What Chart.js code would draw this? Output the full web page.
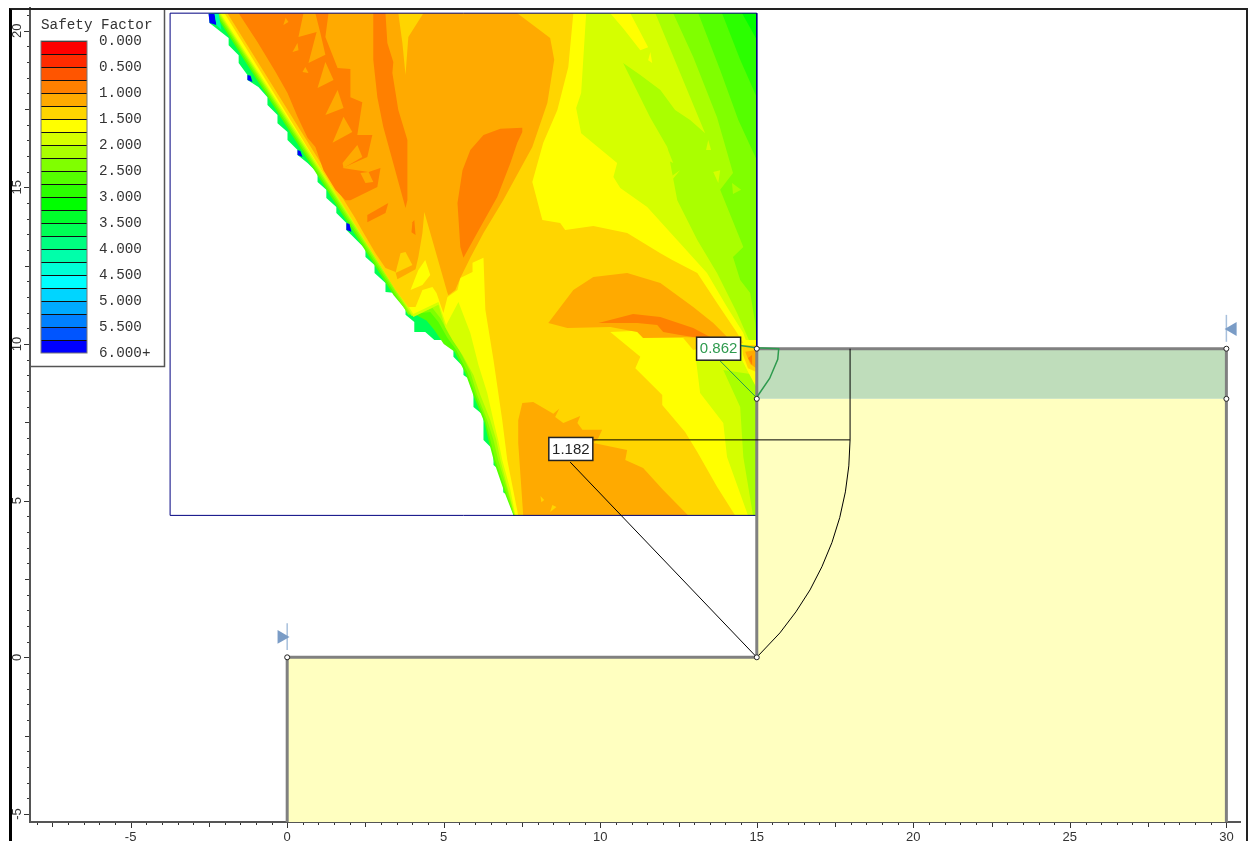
<!DOCTYPE html>
<html>
<head>
<meta charset="utf-8">
<title>Safety Factor</title>
<script src="https://cdn.jsdelivr.net/npm/chart.js@4"></script>
<style>
  html, body { margin: 0; padding: 0; background: #fff; }
  #wrap { position: relative; width: 1248px; height: 841px; overflow: hidden; }
  #frame { position: absolute; left: 9px; top: 8px; width: 1234px; height: 840px;
           border-left: 3px solid #000; border-top: 2px solid #222; border-right: 2px solid #222; pointer-events: none; }
</style>
</head>
<body>
<div id="wrap">
  <canvas id="chart" width="1248" height="841"></canvas>
  <div id="frame"></div>
</div>
<script>
// Legend
const legendTitle = "Safety Factor"
const legendLabels = ["0.000", "0.500", "1.000", "1.500", "2.000", "2.500", "3.000", "3.500", "4.000", "4.500", "5.000", "5.500", "6.000+"]
const legendColors = ["#ff0000", "#ff2b00", "#ff5500", "#ff8000", "#ffaa00", "#ffd500", "#ffff00", "#d5ff00",
  "#aaff00", "#80ff00", "#55ff00", "#2bff00", "#00ff00", "#00ff2b", "#00ff55", "#00ff80",
  "#00ffaa", "#00ffd5", "#00ffff", "#00d5ff", "#00aaff", "#0080ff", "#0055ff", "#0000ff"]

// Contour bands (x, y in metres)
const fieldOutline = [[-2.51,20.56],[-2.48,20.25],[-1.87,19.77],[-1.87,19.54],[-1.55,19.22],[-1.55,18.97],[-1.27,18.59],[-1.27,18.43],[-0.92,18.20],[-0.63,17.88],[-0.63,17.63],[-0.31,17.31],[-0.31,17.05],[0.01,16.77],[0.01,16.51],[0.33,16.19],[0.33,16.03],[0.65,15.78],[0.97,15.46],[0.97,15.17],[1.25,14.92],[1.25,14.66],[1.57,14.37],[1.57,14.18],[1.89,13.86],[1.89,13.64],[2.50,13.03],[2.50,12.78],[2.79,12.52],[2.79,12.27],[3.14,11.95],[3.14,11.66],[3.46,11.63],[3.78,11.25],[3.78,10.93],[4.06,10.70],[4.06,10.38],[4.41,10.38],[4.70,10.13],[4.99,10.13],[5.31,9.87],[5.31,9.59],[5.63,9.27],[5.63,9.01],[5.95,8.79],[5.95,7.99],[6.27,7.73],[6.27,6.94],[6.59,6.62],[6.59,6.14],[6.90,5.88],[6.90,5.27],[7.22,5.02],[7.22,4.53],[15,4.53],[15,20.56]]
const band55 = [[-2.32,20.56],[3.40,11.56],[3.78,11.10],[4.45,10.75],[4.70,10.45],[5.00,10.00],[5.35,9.75],[5.70,9.05],[5.97,8.30],[6.30,7.50],[6.45,6.85],[6.62,6.20],[6.93,5.30],[7.23,4.53],[15,4.53],[15,20.56]]
const band80 = [[-2.26,20.56],[3.47,11.56],[3.87,10.93],[4.57,11.02],[4.83,10.70],[5.12,10.19],[5.40,9.81],[5.75,9.11],[6.01,8.37],[6.33,7.57],[6.49,6.94],[6.65,6.30],[6.97,5.34],[7.24,4.53],[15,4.53],[15,20.56]]
const bandAA = [[-2.21,20.56],[3.53,11.56],[3.97,10.89],[4.64,11.15],[4.89,10.83],[5.18,10.29],[5.50,9.81],[5.85,9.11],[6.07,8.37],[6.39,7.57],[6.59,6.94],[6.74,6.30],[7.03,5.34],[7.26,4.53],[15,4.53],[15,20.56]]
const stripe80 = [[12.33,20.56],[12.97,19.16],[13.73,17.24],[14.24,15.46],[13.83,14.92],[14.57,13.10],[14.24,12.78],[14.47,12.04],[14.79,11.63],[14.95,10.67],[15,9.95],[15,20.56]]
const stripe55 = [[13.13,20.56],[13.83,18.75],[14.41,17.15],[15,15.87],[15,20.56]]
const stripe2B = [[13.89,20.56],[14.47,19.07],[15,17.88],[15,20.56]]
const stripe00 = [[14.53,20.56],[15,19.71],[15,20.56]]
const speckAA = [[14.21,15.14],[14.50,14.92],[14.24,14.79]]
const bandD5 = [[-2.17,20.56],[3.58,11.56],[4.03,10.86],[4.83,11.25],[5.05,10.54],[5.28,10.13],[5.60,9.65],[5.95,9.01],[6.17,8.37],[6.49,7.57],[6.68,6.94],[6.81,6.30],[7.06,5.34],[7.27,4.53],[14.88,4.53],[14.57,6.39],[14.47,7.99],[13.93,9.17],[15,9.01],[15,9.81],[14.79,10.03],[14.37,10.99],[13.73,12.27],[13.10,13.32],[12.46,14.59],[12.14,16.29],[11.60,17.22],[10.73,18.97],[11.28,18.59],[11.92,18.11],[12.39,17.47],[12.87,17.15],[13.35,16.73],[11.76,20.56]]
const speckD5a = [[11.92,15.97],[12.14,16.26],[12.33,15.78]]
const speckD5b = [[12.24,15.33],[12.55,15.55],[12.30,15.24]]
const speckD5c = [[13.61,15.49],[13.83,15.55],[13.77,15.14]]
const speckD5d = [[13.45,16.51],[13.54,16.19],[13.38,16.19]]
const wedgeYellow = [[10.32,20.56],[10.96,20.56],[11.53,19.47],[11.28,19.38],[10.73,20.08]]
const speckYellow = [[11.60,19.32],[11.66,18.97],[11.53,19.06]]
const bandYellow = [[-2.13,20.56],[3.65,11.56],[4.03,10.96],[4.83,11.34],[5.08,10.61],[5.47,11.34],[5.85,10.35],[6.11,9.33],[6.39,8.44],[6.62,7.42],[6.74,6.94],[6.87,6.30],[7.13,5.34],[7.29,4.53],[14.72,4.53],[14.05,6.39],[13.93,7.48],[13.19,8.44],[13.06,9.49],[13.51,9.97],[14.72,9.91],[14.57,10.35],[14.05,11.18],[13.41,12.27],[12.55,13.22],[11.50,14.37],[10.64,14.98],[10.42,15.33],[10.54,15.78],[9.39,16.73],[9.23,17.53],[9.39,18.01],[9.55,20.56]]
const wallYellow = [[14.53,10.13],[14.98,10.13],[14.98,8.63],[14.69,9.17],[14.53,9.49]]
const bandD5Core = [[-2.00,20.56],[3.46,11.72],[3.87,11.18],[4.10,11.18],[4.32,11.72],[4.64,11.82],[4.77,11.63],[4.99,10.99],[5.12,11.50],[5.44,11.72],[5.53,12.11],[5.92,12.30],[5.92,12.59],[6.27,12.75],[6.33,11.09],[6.59,9.49],[6.87,7.57],[7.03,6.30],[7.22,5.34],[7.38,4.53],[14.31,4.53],[13.73,5.44],[13.10,6.55],[12.71,7.19],[11.98,8.05],[11.98,8.37],[11.12,9.23],[11.28,9.59],[10.32,10.38],[11.18,10.42],[11.37,10.19],[12.65,10.19],[12.97,9.81],[13.51,9.97],[14.57,10.03],[14.31,10.45],[13.73,11.31],[13.10,12.27],[12.30,12.68],[11.92,12.90],[10.86,13.54],[9.78,13.77],[8.88,13.64],[8.72,13.86],[8.15,13.96],[7.83,15.17],[8.18,16.42],[8.63,17.47],[8.98,18.84],[9.14,20.56]]
const wallCore = [[14.53,9.97],[14.98,9.97],[14.98,9.11],[14.72,9.23],[14.56,9.65]]
const bandOrange = [[-1.91,20.56],[2.15,14.05],[2.44,13.54],[2.82,12.90],[3.14,12.43],[3.46,12.30],[3.52,12.07],[4.10,12.39],[4.19,12.78],[4.32,13.54],[4.38,14.21],[5.12,11.63],[5.15,11.56],[5.37,11.72],[5.53,12.11],[5.85,12.75],[6.27,13.54],[6.90,14.59],[7.83,16.29],[8.31,17.69],[8.53,19.07],[8.40,19.77],[7.35,20.56]]
const wedgeCore = [[3.55,20.56],[4.35,20.56],[3.87,19.80],[3.78,18.59],[3.68,19.61]]
const blobCore = [[3.46,12.27],[3.62,12.90],[3.78,12.94],[4.00,12.52]]
const spikeYellow = [[4.41,12.68],[4.57,12.20],[4.32,11.88],[3.94,11.72],[4.19,12.36]]
const islandUpper = [[8.34,10.67],[9.14,11.72],[9.78,12.14],[10.86,12.27],[11.92,11.95],[12.97,11.18],[13.61,10.67],[14.15,10.13],[13.29,10.19],[12.65,10.22],[11.37,10.19],[11.18,10.38],[10.32,10.54],[8.95,10.51]]
const islandLower = [[7.51,8.12],[7.86,8.15],[8.50,7.77],[8.69,7.93],[8.56,7.67],[8.82,7.48],[9.36,7.70],[9.27,7.48],[9.43,7.26],[10.06,7.26],[9.94,7.00],[9.78,6.84],[10.86,6.62],[10.80,6.30],[11.37,6.04],[12.01,5.34],[12.81,4.53],[7.54,4.53],[7.38,6.84],[7.38,7.57]]
const speckCoreA = [[8.09,5.15],[8.21,5.02],[8.12,4.95]]
const speckCoreB = [[8.47,4.86],[8.60,4.80],[8.40,4.64]]
const wallOrange = [[14.63,9.75],[14.98,9.81],[14.98,9.23],[14.79,9.36]]
const deepMain = [[-1.55,20.56],[1.32,20.56],[1.22,19.80],[1.61,18.81],[2.02,18.78],[2.02,17.88],[2.40,17.72],[2.24,16.67],[2.72,16.67],[2.56,15.97],[1.77,15.62],[2.60,15.49],[2.98,15.62],[2.88,15.01],[2.02,14.59],[1.86,14.59],[1.54,14.92],[1.16,15.55],[0.90,16.29],[0.65,16.58],[0.33,17.25],[0.01,18.01],[-0.37,18.68],[-0.95,19.64]]
const notch1 = [[0.52,20.56],[0.90,20.56],[1.06,19.93],[1.22,19.23],[0.68,18.97],[0.94,19.96],[0.36,19.80]]
const notch2 = [[1.22,19.00],[1.48,18.43],[0.97,18.17]]
const notch3 = [[1.61,18.11],[1.80,17.53],[1.22,17.31]]
const notch4 = [[1.80,17.25],[2.08,16.77],[1.45,16.42]]
const notch5 = [[2.24,16.35],[2.40,15.97],[1.80,15.62],[1.77,15.78]]
const notch6 = [[-0.05,20.41],[0.04,20.28],[-0.12,20.18]]
const notch7 = [[0.33,19.61],[0.36,19.38],[0.17,19.32]]
const notch8 = [[0.58,18.84],[0.68,18.65],[0.49,18.68]]
const notch9 = [[2.60,15.49],[2.75,15.17],[2.50,15.14],[2.34,15.46]]
const deepIsland1 = [[3.23,14.50],[3.14,14.18],[2.56,13.89],[2.56,14.12]]
const deepIsland2 = [[4.00,13.89],[4.06,13.96],[4.10,13.48],[3.97,13.57]]
const deepStrip = [[2.75,20.56],[3.14,20.56],[3.20,19.61],[3.39,19.00],[3.36,18.65],[3.55,17.47],[3.84,16.51],[3.84,14.59],[3.78,14.34],[3.36,15.87],[3.07,16.93],[2.88,17.88],[2.75,19.07]]
const deepLeaf = [[7.51,16.90],[6.81,16.87],[6.27,16.67],[5.85,16.19],[5.60,15.55],[5.44,14.50],[5.53,13.10],[5.63,12.75],[6.17,13.73],[6.71,14.69],[7.13,15.78],[7.35,16.42],[7.51,16.77]]
const deepBrow = [[9.94,10.67],[11.05,10.96],[11.92,10.86],[12.97,10.51],[13.51,10.22],[12.97,10.22],[12.55,10.29],[12.01,10.38],[11.82,10.61],[11.18,10.67]]
const wallDeep = [[14.72,9.55],[14.85,9.65],[14.85,9.33]]
const tipBlue1 = [[-2.51,20.53],[-2.32,20.53],[-2.26,20.18],[-2.48,20.25]]
const tipCyan1 = [[-2.32,20.56],[-2.19,20.56],[-2.10,20.02],[-2.26,20.18]]
const tipBlue2 = [[-1.27,18.59],[-1.17,18.56],[-1.11,18.36],[-1.27,18.43]]
const tipBlue3 = [[0.33,16.19],[0.42,16.16],[0.49,15.97],[0.33,16.03]]
const tipBlue4 = [[1.89,13.86],[1.99,13.83],[2.05,13.58],[1.89,13.64]]
const contourWindow = [[-3.74,20.56],[15,20.56],[15,4.53],[-3.74,4.53],[-3.74,20.56]]

// Slope model
const soilLower = [[0,-5.27],[0,0],[15,0],[15,8.25],[30,8.25],[30,-5.27]]
const soilUpper = [[15,8.25],[15,9.85],[30,9.85],[30,8.25]]
const slopeOutline = [[0,-5.27],[0,0],[15,0],[15,9.85],[30,9.85],[30,-5.27]]
const vertices = [[0,0],[15,0],[15,8.25],[15,9.85],[30,9.85],[30,8.25]]
const markerRight = [[-0.18,0.65]]
const markerLeft = [[30.2,10.48]]
const markerBarLeft = [[0,0.23],[0,1.09]]
const markerBarRight = [[30,10.07],[30,10.93]]

// Critical slip surfaces
const slipGlobal = [[15,0],[15.74,0.78],[16.25,1.45],[16.70,2.15],[17.08,2.89],[17.40,3.66],[17.65,4.46],[17.83,5.28],[17.94,6.11],[17.98,6.94],[17.98,9.85]]
const radiusGlobalA = [[15,0],[9.04,6.23]]
const radiusGlobalB = [[9.75,6.94],[17.98,6.94]]
const slipShallow = [[15,8.30],[15.41,8.90],[15.67,9.51],[15.70,9.85],[15,9.88],[14.47,9.95]]
const radiusShallow = [[13.83,9.46],[15,8.28]]
const factorGlobal = { text: "1.182", x: 9.06, y: 6.65 }
const factorShallow = { text: "0.862", x: 13.78, y: 9.85 }

const toPoints = (list) => list.map(([x, y]) => ({ x, y }))
const shape = (list, color) => ({ data: toPoints(list), fill: "shape", backgroundColor: color, borderWidth: 0, pointRadius: 0 })
const wire = (list, color, width) => ({ data: toPoints(list), fill: false, borderColor: color, borderWidth: width, pointRadius: 0 })
const marker = (list, rotation) => ({ data: toPoints(list), showLine: false, pointStyle: "triangle", pointRadius: 8, rotation, pointBackgroundColor: "#7a9cc6", pointBorderWidth: 0 })

const c = {
  deep: legendColors[3], orange: legendColors[4], core: legendColors[5], yellow: legendColors[6],
  d5: legendColors[7], aa: legendColors[8], g80: legendColors[9], g55: legendColors[10], g2b: legendColors[11], g00: legendColors[12], teal: legendColors[14],
}

// painted in this order, later ones on top
const datasets = [
  shape(fieldOutline, c.teal), shape(band55, c.g55), shape(band80, c.g80), shape(bandAA, c.aa),
  shape(tipBlue1, "#0000ff"), shape(tipCyan1, "#00ffaa"), shape(tipBlue2, "#0000ff"), shape(tipBlue3, "#0000ff"), shape(tipBlue4, "#0000ff"),
  shape(stripe80, c.g80), shape(stripe55, c.g55), shape(stripe2B, c.g2b), shape(stripe00, c.g00), shape(speckAA, c.aa),
  shape(bandD5, c.d5), shape(speckD5a, c.d5), shape(speckD5b, c.d5), shape(speckD5c, c.d5), shape(speckD5d, c.d5),
  shape(wedgeYellow, c.yellow), shape(speckYellow, c.yellow), shape(bandYellow, c.yellow), shape(wallYellow, c.yellow),
  shape(bandD5Core, c.core), shape(wallCore, c.core),
  shape(bandOrange, c.orange), shape(wedgeCore, c.core), shape(blobCore, c.core), shape(spikeYellow, c.yellow),
  shape(islandUpper, c.orange), shape(islandLower, c.orange), shape(speckCoreA, c.core), shape(speckCoreB, c.core), shape(wallOrange, c.orange),
  shape(deepMain, c.deep), shape(notch1, c.orange), shape(notch2, c.orange), shape(notch3, c.orange), shape(notch4, c.orange),
  shape(notch5, c.orange), shape(notch6, c.orange), shape(notch7, c.orange), shape(notch8, c.orange), shape(notch9, c.orange),
  shape(deepIsland1, c.deep), shape(deepIsland2, c.deep), shape(deepStrip, c.deep), shape(deepLeaf, c.deep), shape(deepBrow, c.deep), shape(wallDeep, c.deep),
  wire(contourWindow, "#000080", 1),
  shape(soilLower, "#ffffc0"), shape(soilUpper, "#bfddbb"),
  wire(slopeOutline, "#808080", 3),
  wire(slipGlobal, "#000000", 1), wire(radiusGlobalA, "#000000", 1), wire(radiusGlobalB, "#000000", 1),
  wire(slipShallow, "#2e9a4e", 1.5), wire(radiusShallow, "#2e9a4e", 1),
  wire(markerBarLeft, "#a8c0dc", 1.5), wire(markerBarRight, "#a8c0dc", 1.5),
  marker(markerRight, 90), marker(markerLeft, -90),
  { data: toPoints(vertices), showLine: false, pointRadius: 2.5, pointBackgroundColor: "#ffffff", pointBorderColor: "#222222", pointBorderWidth: 1 },
]
datasets.forEach((d, i) => { d.order = datasets.length - i })

// Minor, medium and major ticks for both axes
const tickMarks = {
  id: "tickMarks",
  afterDraw(chart) {
    const { ctx, scales } = chart
    ctx.save()
    ctx.strokeStyle = "#333"
    ctx.lineWidth = 1
    const lengthFor = (v) => (Number.isInteger(v / 5) ? 5 : Number.isInteger(v / 2.5) ? 4 : 2)
    scales.x.ticks.forEach((t) => {
      const px = Math.round(scales.x.getPixelForValue(t.value)) + 0.5
      ctx.beginPath(); ctx.moveTo(px, scales.x.top + 1); ctx.lineTo(px, scales.x.top + 1 + lengthFor(t.value)); ctx.stroke()
    })
    scales.y.ticks.forEach((t) => {
      const py = Math.round(scales.y.getPixelForValue(t.value)) + 0.5
      ctx.beginPath(); ctx.moveTo(scales.y.right - 1, py); ctx.lineTo(scales.y.right - 1 - lengthFor(t.value), py); ctx.stroke()
    })
    ctx.restore()
  },
}

// Legend box in the top left corner, and the two factor labels
const annotations = {
  id: "annotations",
  afterDraw(chart) {
    const { ctx, scales } = chart
    ctx.save()
    ctx.fillStyle = "#ffffff"
    ctx.fillRect(31, 10, 133, 356)
    ctx.strokeStyle = "#555"
    ctx.lineWidth = 1.5
    ctx.beginPath(); ctx.moveTo(164.5, 10); ctx.lineTo(164.5, 366.5); ctx.lineTo(30, 366.5); ctx.stroke()
    legendColors.forEach((color, i) => {
      ctx.fillStyle = color
      ctx.fillRect(41, 41 + i * 13, 46, 13)
      ctx.strokeStyle = "#111"
      ctx.lineWidth = 1
      ctx.beginPath(); ctx.moveTo(41, 41.5 + i * 13); ctx.lineTo(87, 41.5 + i * 13); ctx.stroke()
    })
    ctx.strokeStyle = "#777"
    ctx.strokeRect(41, 41, 46, 312)
    ctx.fillStyle = "#333"
    ctx.font = '14.3px "Liberation Mono", monospace'
    ctx.textBaseline = "middle"
    ctx.textAlign = "left"
    ctx.fillText(legendTitle, 41, 25.5)
    legendLabels.forEach((label, i) => ctx.fillText(label, 99, 41.5 + i * 26))

    const boxes = [[factorGlobal, "#222222"], [factorShallow, "#2e9a4e"]]
    boxes.forEach(([f, color]) => {
      const cx = scales.x.getPixelForValue(f.x)
      const cy = scales.y.getPixelForValue(f.y)
      ctx.fillStyle = "#ffffff"
      ctx.fillRect(cx - 22, cy - 11.5, 44, 23)
      ctx.strokeStyle = "#222"
      ctx.lineWidth = 1.5
      ctx.strokeRect(cx - 22, cy - 11.5, 44, 23)
      ctx.fillStyle = color
      ctx.font = '15px "Liberation Sans", Arial, sans-serif'
      ctx.textAlign = "center"
      ctx.fillText(f.text, cx, cy + 0.5)
    })
    ctx.restore()
  },
}

new Chart(document.getElementById("chart"), {
  type: "line",
  data: { datasets },
  plugins: [tickMarks, annotations],
  options: {
    responsive: false,
    animation: false,
    devicePixelRatio: 1,
    events: [],
    layout: { padding: { top: 5.5, right: 0 } },
    elements: { line: { tension: 0 } },
    plugins: { legend: { display: false }, tooltip: { enabled: false } },
    scales: {
      x: {
        type: "linear",
        min: -8.215,
        max: 30.435,
        afterFit: (scale) => { scale.height = 19 },
        grid: { display: false },
        border: { display: true, color: "#555", width: 2 },
        ticks: {
          stepSize: 0.5,
          includeBounds: false,
          autoSkip: false,
          maxRotation: 0,
          padding: 0,
          color: "#333",
          font: { family: "'Liberation Sans', Arial, sans-serif", size: 13 },
          callback: (v) => (Number.isInteger(v / 5) ? String(v) : ""),
        },
      },
      y: {
        type: "linear",
        min: -5.257,
        max: 20.725,
        afterFit: (scale) => { scale.width = 30 },
        grid: { display: false },
        border: { display: true, color: "#555", width: 2 },
        ticks: {
          stepSize: 0.5,
          includeBounds: false,
          autoSkip: false,
          minRotation: 90,
          maxRotation: 90,
          crossAlign: "center",
          padding: -2.5,
          color: "#333",
          font: { family: "'Liberation Sans', Arial, sans-serif", size: 13 },
          callback: (v) => (Number.isInteger(v / 5) ? String(v) : ""),
        },
      },
    },
  },
})
</script>
</body>
</html>
